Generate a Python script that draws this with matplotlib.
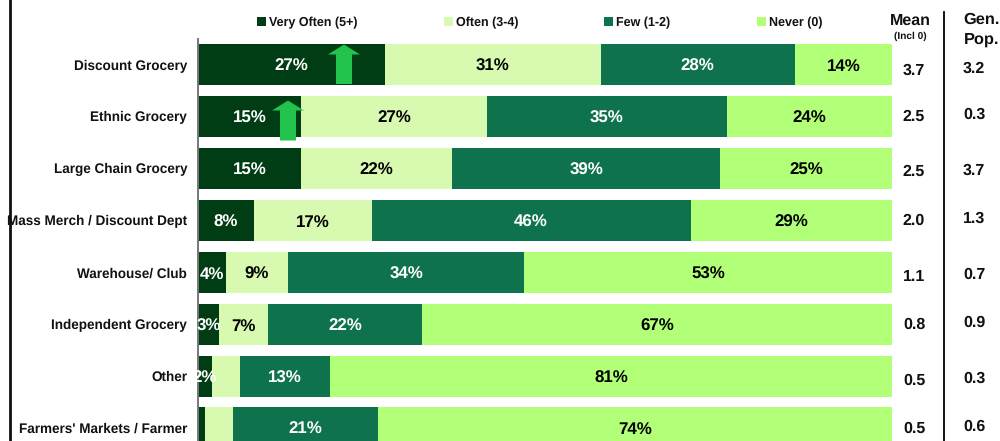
import matplotlib
matplotlib.use("Agg")
import matplotlib.pyplot as plt
import numpy as np
from matplotlib.patches import Polygon, Rectangle
from matplotlib.lines import Line2D
from matplotlib.transforms import ScaledTranslation

plt.rcParams['font.family'] = ['Liberation Sans', 'DejaVu Sans']
plt.rcParams['font.weight'] = 'bold'
plt.rcParams['text.hinting'] = 'no_hinting'
plt.rcParams['text.hinting_factor'] = 8

categories = ["Discount Grocery", "Ethnic Grocery", "Large Chain Grocery",
              "Mass Merch / Discount Dept", "Warehouse/ Club", "Independent Grocery",
              "Other", "Farmers' Markets / Farmer"]
series_names = ["Very Often (5+)", "Often (3-4)", "Few (1-2)", "Never (0)"]
very_often = [27, 15, 15, 8, 4, 3, 2, 1]
often = [31, 27, 22, 17, 9, 7, 4, 4]
few = [28, 35, 39, 46, 34, 22, 13, 21]
never = [14, 24, 25, 29, 53, 67, 81, 74]
mean_vals = ["3.7", "2.5", "2.5", "2.0", "1.1", "0.8", "0.5", "0.5"]
genpop_vals = ["3.2", "0.3", "3.7", "1.3", "0.7", "0.9", "0.3", "0.6"]
colors = ["#003D14", "#D8F9B0", "#0E734D", "#B2FF78"]
label_colors = ["white", "black", "white", "black"]
hidden_labels = {(7, 0), (6, 1), (7, 1)}

W, H = 1000, 441
fig = plt.figure(figsize=(W / 100, H / 100), dpi=100, facecolor="white")
def fx(x): return x / W
def fy(y): return 1 - y / H

# axes spans pixel x 198..892; y from 39 to the bottom edge of the canvas
ax = fig.add_axes([fx(198), 0, fx(694), 1 - 39 / H])
pitch = 51.9
first = 64.6
ax.set_xlim(0, 1)
ax.set_ylim((441 - first) / pitch, (39 - first) / pitch)
ax.patch.set_alpha(0)
def shift_down(px):
    return ScaledTranslation(0, -px / 100, fig.dpi_scale_trans)

data = np.array([very_often, often, few, never], dtype=float)
shares = data / data.sum(axis=0)
ypos = np.arange(len(categories))
left = np.zeros(len(categories))
for s in range(4):
    ax.barh(ypos, shares[s], left=left, height=41 / pitch, color=colors[s], linewidth=0)
    for i in ypos:
        if (i, s) in hidden_labels:
            continue
        ax.text(left[i] + shares[s, i] / 2, i, f"{int(data[s, i])}%", ha="center", va="center",
                fontsize=12.2, color=label_colors[s], clip_on=False, zorder=5,
                transform=ax.transData + shift_down(2))
    left += shares[s]

ax.set_yticks(ypos)
ax.set_yticklabels(categories, fontsize=9.75, color="#111111")
ax.tick_params(axis="y", length=0, pad=7.8)
ax.set_xticks([])
for k in ("top", "right", "bottom"):
    ax.spines[k].set_visible(False)
ax.spines["left"].set_color("#777777")
ax.spines["left"].set_linewidth(1.4)

# Mean and Gen. Pop. columns
mean_y = [71, 117, 172, 221, 277, 325, 381, 429]
gen_y = [69, 115, 171, 219, 275, 323, 379, 427]
for v, y in zip(mean_vals, mean_y):
    fig.text(fx(914), fy(y), v, ha="center", va="center", fontsize=11.5, color="#111111")
for v, y in zip(genpop_vals, gen_y):
    fig.text(fx(974), fy(y), v, ha="center", va="center", fontsize=11.5, color="#111111")
fig.text(fx(910), fy(21), "Mean", ha="center", va="center", fontsize=11.5, color="#111111")
fig.text(fx(910), fy(36), "(Incl 0)", ha="center", va="center", fontsize=7.3, color="#111111")
fig.text(fx(981.5), fy(20), "Gen.", ha="center", va="center", fontsize=11.8, color="#111111")
fig.text(fx(981.5), fy(40), "Pop.", ha="center", va="center", fontsize=11.8, color="#111111")

# Legend
swatch_x = [257, 444, 604, 757]
for name, c, x in zip(series_names, colors, swatch_x):
    fig.add_artist(Rectangle((fx(x), fy(26)), fx(9), 9 / H, transform=fig.transFigure, color=c, lw=0))
    fig.text(fx(x + 12), fy(22.7), name, ha="left", va="center", fontsize=9, color="#111111")

# Vertical rules
fig.add_artist(Line2D([fx(9.7), fx(9.7)], [0, 1], color="#111111", lw=2.0))
fig.add_artist(Line2D([fx(943.7), fx(943.7)], [0, fy(12)], color="black", lw=1.3))

# Up arrows
def arrow(cx, top, bottom):
    pts = [(cx - 8, bottom), (cx - 8, top + 10), (cx - 16, top + 10), (cx, top),
           (cx + 16, top + 10), (cx + 8, top + 10), (cx + 8, bottom)]
    fig.add_artist(Polygon([(fx(x), fy(y)) for x, y in pts], closed=True,
                           transform=fig.transFigure, color="#22C44D", lw=0, zorder=6))
arrow(344, 44.5, 84)
arrow(288, 100.5, 140.5)

fig.savefig("out.png", dpi=100)
